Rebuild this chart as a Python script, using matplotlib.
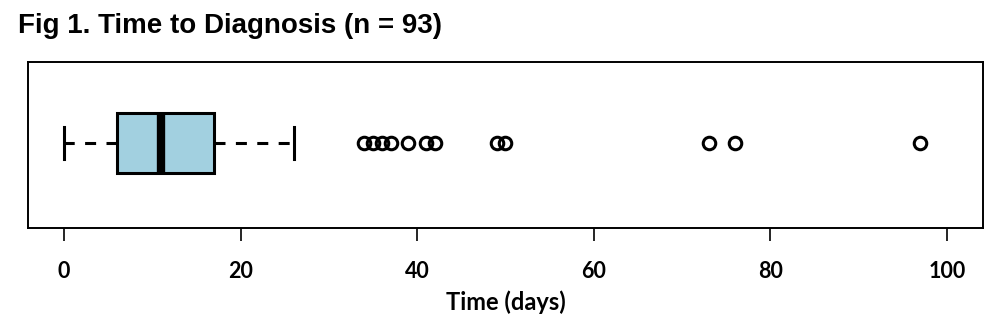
import matplotlib
matplotlib.use("Agg")
import matplotlib.pyplot as plt

# summary of time to diagnosis (days)
whisker_low = 0
q1 = 6
median = 11
q3 = 17
whisker_high = 26
outliers = [34, 35, 36, 37, 39, 41, 42, 49, 50, 73, 76, 97]
xticks = [0, 20, 40, 60, 80, 100]

stats = [{
    "whislo": whisker_low, "q1": q1, "med": median, "q3": q3,
    "whishi": whisker_high, "fliers": outliers,
}]

fig = plt.figure(figsize=(10.06, 3.30), dpi=100)
ax = fig.add_axes([0.0278, 0.309, 0.9493, 0.503])

ax.bxp(
    stats, positions=[1], vert=False, widths=0.36, patch_artist=True,
    boxprops=dict(facecolor="#a2d0e0", edgecolor="black", linewidth=2.2),
    medianprops=dict(color="black", linewidth=6, solid_capstyle="butt"),
    whiskerprops=dict(color="black", linewidth=2.2, linestyle=(0, (3.6, 3.4))),
    capprops=dict(color="black", linewidth=2.2),
    capwidths=0.19,
    flierprops=dict(marker="o", markersize=9, markerfacecolor="none",
                    markeredgecolor="black", markeredgewidth=2.2),
)

ax.set_xlim(-4.08, 104.08)
ax.set_ylim(0.488, 1.488)
ax.set_yticks([])
ax.set_xticks(xticks)
ax.set_xticklabels([str(t) for t in xticks], fontsize=15.5, fontweight="bold",
                   family="Lato")
ax.tick_params(axis="x", length=9, width=1.2, pad=15)
for s in ax.spines.values():
    s.set_linewidth(1.4)

ax.set_xlabel("Time (days)", fontsize=17, fontweight="bold", family="Lato",
              labelpad=6)

fig.text(0.018, 0.922, "Fig 1. Time to Diagnosis (n = 93)", fontsize=20,
         fontweight="bold", family="Liberation Sans", va="center", ha="left")

fig.savefig("out.png", dpi=100)
